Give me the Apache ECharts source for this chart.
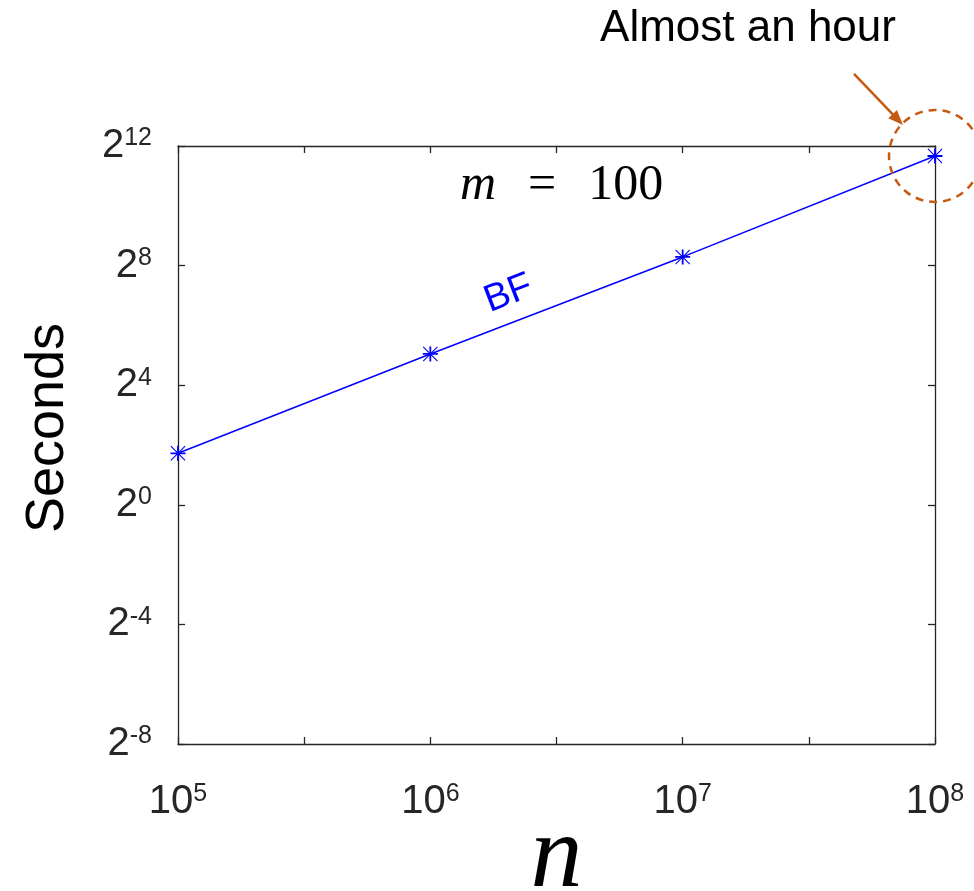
<!DOCTYPE html>
<html><head><meta charset="utf-8">
<script src="https://cdn.jsdelivr.net/npm/echarts@6/dist/echarts.min.js"></script>
<style>html,body{margin:0;padding:0;background:#fff}#c{width:974px;height:891px}</style>
</head><body><div id="c"></div>
<script>
// ---- data ----
const nValues = [1e5, 1e6, 1e7, 1e8];          // problem size n
const seconds = [3.3, 33, 313, 3250];           // BF runtime in seconds
const seriesName = 'BF';
const xExpMin = 5, xExpMax = 8;                  // 10^5 .. 10^8
const yExpMin = -8, yExpMax = 12;                // 2^-8 .. 2^12
const titleText = { v: 'm', rest: '100' };
const annotationText = 'Almost an hour';

const axisColor = '#262626';
const FONT = '"Liberation Sans", Arial, sans-serif';
const SERIF = '"Liberation Serif", "DejaVu Serif", serif';

const points = nValues.map((n, i) => [Math.log10(n), Math.log2(seconds[i])]);

const asterisk = 'path://M44 0 L56 0 L56 100 L44 100 Z M0 44 L100 44 L100 56 L0 56 Z M5 0 L100 95 L95 100 L0 5 Z M95 0 L100 5 L5 100 L0 95 Z';

const richLabel = {
  b: { fontSize: 40, fontFamily: FONT, color: axisColor, lineHeight: 40 },
  s: { fontSize: 25, fontFamily: FONT, color: axisColor, lineHeight: 30, verticalAlign: 'top' }
};
const isInt = v => Math.abs(v - Math.round(v)) < 1e-9;

const tickStyle = { show: true, inside: true, length: 7, lineStyle: { color: axisColor, width: 1.3 } };
const lineStyle = { show: true, onZero: false, lineStyle: { color: axisColor, width: 1.3 } };

const chart = echarts.init(document.getElementById('c'), null, { renderer: 'canvas' });
chart.setOption({
  animation: false,
  backgroundColor: '#ffffff',
  grid: { left: 178, right: 39, top: 146, bottom: 147, containLabel: false, outerBoundsMode: 'none' },
  title: {
    left: 455, top: 156,
    text: '{v|' + titleText.v + '}{e|=}{n|' + titleText.rest + '}',
    textStyle: {
      fontWeight: 'normal',
      rich: {
        v: { fontSize: 50, fontFamily: SERIF, fontStyle: 'italic', fontWeight: 'normal', color: '#000' },
        e: { fontSize: 50, fontFamily: SERIF, fontWeight: 'normal', color: '#000', padding: [0, 32, 0, 32] },
        n: { fontSize: 50, fontFamily: SERIF, fontWeight: 'normal', color: '#000' }
      }
    }
  },
  xAxis: [{
    type: 'value', position: 'bottom', min: xExpMin, max: xExpMax, interval: 0.5,
    axisLine: lineStyle, axisTick: tickStyle, splitLine: { show: false },
    axisLabel: {
      margin: 38, rich: richLabel,
      formatter: v => isInt(v) ? '{b|10}{s|' + Math.round(v) + '}' : ''
    },
    name: 'n', nameLocation: 'middle', nameGap: 63, nameMoveOverlap: false,
    nameTextStyle: { fontSize: 104, fontFamily: SERIF, fontStyle: 'italic', color: '#000' }
  }, {
    type: 'value', position: 'top', min: xExpMin, max: xExpMax, interval: 0.5,
    axisLine: lineStyle, axisTick: tickStyle, splitLine: { show: false }, axisLabel: { show: false }
  }],
  yAxis: [{
    type: 'value', position: 'left', min: yExpMin, max: yExpMax, interval: 4,
    axisLine: lineStyle, axisTick: tickStyle, splitLine: { show: false },
    axisLabel: {
      margin: 26, rich: richLabel,
      formatter: v => '{b|2}{s|' + Math.round(v) + '}'
    },
    name: 'Seconds', nameLocation: 'middle', nameGap: 103, nameRotate: 90, nameMoveOverlap: false,
    nameTextStyle: { fontSize: 54, fontFamily: FONT, color: '#000', padding: [0, 0, 0, 34] }
  }, {
    type: 'value', position: 'right', min: yExpMin, max: yExpMax, interval: 4,
    axisLine: lineStyle, axisTick: tickStyle, splitLine: { show: false }, axisLabel: { show: false }
  }],
  series: [{
    name: seriesName, type: 'line', xAxisIndex: 0, yAxisIndex: 0,
    data: points, symbol: asterisk, symbolSize: 15, clip: false,
    lineStyle: { color: '#0000ff', width: 1.5 },
    itemStyle: { color: '#0000ff' }
  }]
});

// annotations placed relative to data points via the chart's own scales
const px = p => chart.convertToPixel({ gridIndex: 0 }, p);
const p2 = px(points[1]), p3 = px(points[2]), pL = px(points[points.length - 1]);
const dx = p3[0] - p2[0], dy = p3[1] - p2[1], len = Math.hypot(dx, dy);
const nx = dy / len, ny = -dx / len; // upward normal
const bx = p2[0] + 0.35 * dx + 28 * nx, by = p2[1] + 0.35 * dy + 28 * ny;
const ang = Math.atan2(-dy, dx);

const orange = '#c55a11';
const tip = [pL[0] - 32, pL[1] - 31];
const start = [pL[0] - 81, pL[1] - 82];
const ax = tip[0] - start[0], ay = tip[1] - start[1], al = Math.hypot(ax, ay);
const ex = ax / al, ey = ay / al;
const hb = [tip[0] - 15 * ex, tip[1] - 15 * ey];
const head = [tip, [hb[0] - 6 * ey, hb[1] + 6 * ex], [hb[0] + 6 * ey, hb[1] - 6 * ex]];

chart.setOption({
  graphic: [
    { type: 'text', x: bx, y: by, rotation: ang, z: 10,
      style: { text: seriesName, fill: '#0000ff', font: '38px ' + FONT,
               textAlign: 'center', textVerticalAlign: 'middle', align: 'center', verticalAlign: 'middle' } },
    { type: 'circle', z: 10, shape: { cx: pL[0], cy: pL[1], r: 46 },
      style: { fill: 'none', stroke: orange, lineWidth: 2.5, lineDash: [8, 6] } },
    { type: 'line', z: 10, shape: { x1: start[0], y1: start[1], x2: hb[0] + 3 * ex, y2: hb[1] + 3 * ey },
      style: { stroke: orange, lineWidth: 2.5 } },
    { type: 'polygon', z: 10, shape: { points: head }, style: { fill: orange } },
    { type: 'text', x: 748, y: 29, z: 10,
      style: { text: annotationText, fill: '#000', font: '44px ' + FONT,
               textAlign: 'center', textVerticalAlign: 'middle', align: 'center', verticalAlign: 'middle' } }
  ]
});
</script></body></html>
